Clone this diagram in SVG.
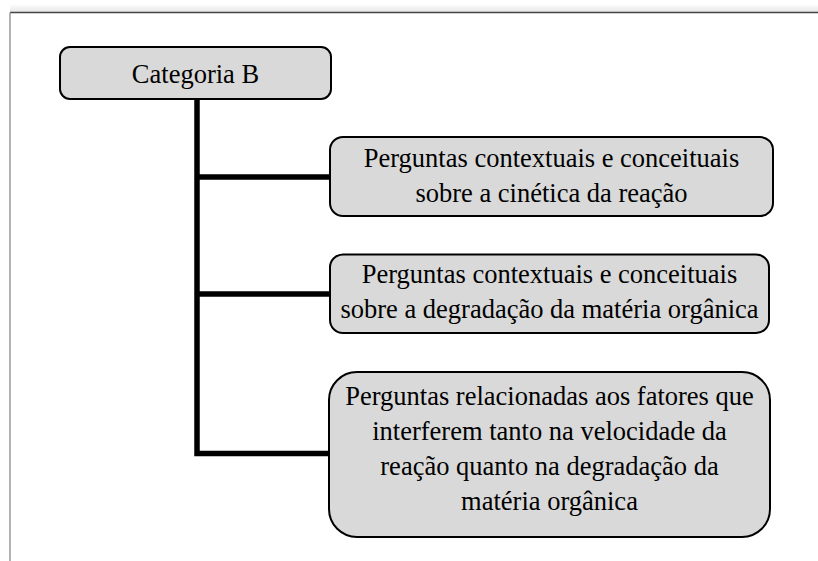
<svg xmlns="http://www.w3.org/2000/svg" width="818" height="561" viewBox="0 0 818 561">
<defs>
<linearGradient id="sh" x1="0" y1="0" x2="0" y2="1">
<stop offset="0" stop-color="#ffffff"/>
<stop offset="1" stop-color="#e6e6e6"/>
</linearGradient>
<style>
.box{fill:#d9d9d9;stroke:#000;stroke-width:2}
.t{font-family:"Liberation Serif","Times New Roman",serif;font-size:26.5px;fill:#000;text-anchor:middle}
.c{stroke:#000;stroke-width:5.5;fill:none}
</style>
</defs>
<rect x="0" y="0" width="818" height="561" fill="#fff"/>
<rect x="10" y="4" width="808" height="8" fill="url(#sh)"/>
<g id="frame">
<line x1="10" y1="12.5" x2="818" y2="12.5" stroke="#444" stroke-width="1.5"/>
<line x1="10" y1="12.5" x2="10" y2="561" stroke="#999" stroke-width="1.5"/>
</g>
<g id="connectors">
<path class="c" d="M197 99 V453.5 H330"/>
<path class="c" d="M197 177 H330"/>
<path class="c" d="M197 294 H330"/>
</g>
<g id="categoria">
<rect class="box" x="60" y="47" width="271" height="52" rx="10"/>
<text class="t" x="195.5" y="83">Categoria B</text>
</g>
<g id="node1">
<rect class="box" x="330" y="137" width="443" height="79" rx="13"/>
<text class="t" x="551.5" y="167">Perguntas contextuais e conceituais</text>
<text class="t" x="551.5" y="202">sobre a cinética da reação</text>
</g>
<g id="node2">
<rect class="box" x="330" y="254.5" width="439" height="78.5" rx="13"/>
<text class="t" x="549.5" y="283">Perguntas contextuais e conceituais</text>
<text class="t" x="549.5" y="318">sobre a degradação da matéria orgânica</text>
</g>
<g id="node3">
<rect class="box" x="329" y="372" width="441" height="165" rx="28"/>
<text class="t" x="549.5" y="405">Perguntas relacionadas aos fatores que</text>
<text class="t" x="549.5" y="440">interferem tanto na velocidade da</text>
<text class="t" x="549.5" y="475">reação quanto na degradação da</text>
<text class="t" x="549.5" y="510">matéria orgânica</text>
</g>
</svg>
